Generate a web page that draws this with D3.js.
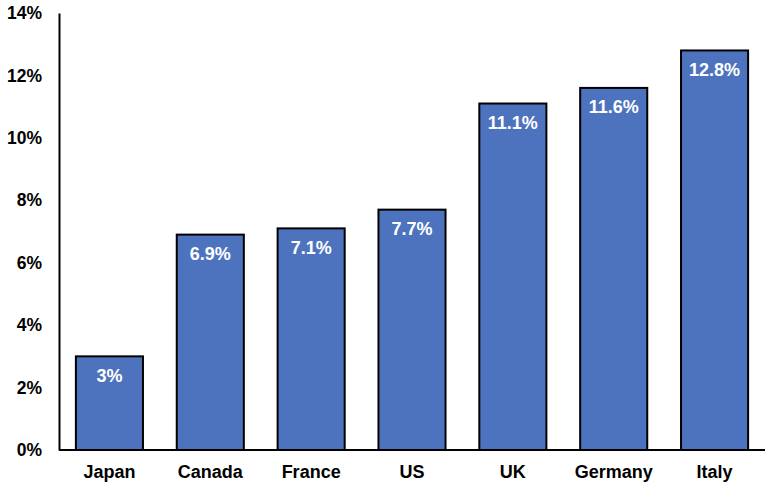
<!DOCTYPE html>
<html>
<head>
<meta charset="utf-8">
<script src="https://cdn.jsdelivr.net/npm/d3@7"></script>
<style>
  body { margin: 0; background: #fff; }
  text { font-family: "Liberation Sans", Arial, sans-serif; font-weight: bold; }
</style>
</head>
<body>
<svg id="chart" width="772" height="492"></svg>
<script>
// chart data
const countries = ['Japan', 'Canada', 'France', 'US', 'UK', 'Germany', 'Italy'];
const shares = [3, 6.9, 7.1, 7.7, 11.1, 11.6, 12.8];
const valueLabels = ['3%', '6.9%', '7.1%', '7.7%', '11.1%', '11.6%', '12.8%'];
const yTicks = [0, 2, 4, 6, 8, 10, 12, 14];

const svg = d3.select('#chart');
const plotLeft = 59, plotRight = 765, plotTop = 13, plotBottom = 450;

const x = d3.scaleBand()
    .domain(countries)
    .range([plotLeft, plotRight])
    .paddingInner(0.335)
    .paddingOuter(0.1675);

const y = d3.scaleLinear()
    .domain([0, 14])
    .range([plotBottom, plotTop]);

// bars
svg.append('g')
    .selectAll('rect')
    .data(countries)
    .enter().append('rect')
    .attr('x', d => x(d))
    .attr('y', (d, i) => y(shares[i]))
    .attr('width', x.bandwidth())
    .attr('height', (d, i) => y(0) - y(shares[i]))
    .attr('fill', '#4E73BE')
    .attr('stroke', '#000')
    .attr('stroke-width', 2);

// value labels inside bars
svg.append('g')
    .selectAll('text')
    .data(countries)
    .enter().append('text')
    .attr('x', d => x(d) + x.bandwidth() / 2)
    .attr('y', (d, i) => y(shares[i]) + 25.5)
    .attr('text-anchor', 'middle')
    .attr('fill', '#fff')
    .style('font-size', '18px')
    .text((d, i) => valueLabels[i]);

// y axis
const yAxis = svg.append('g')
    .attr('transform', `translate(${plotLeft},0)`)
    .call(d3.axisLeft(y).tickValues(yTicks).tickSize(0).tickPadding(17).tickFormat(d => d + '%'));
yAxis.select('.domain').attr('stroke', '#000').attr('stroke-width', 2);
yAxis.selectAll('text').style('font-size', '17.5px').attr('fill', '#000');

// x axis
const xAxis = svg.append('g')
    .attr('transform', `translate(0,${plotBottom})`)
    .call(d3.axisBottom(x).tickSize(0).tickPadding(15));
xAxis.select('.domain').attr('stroke', '#000').attr('stroke-width', 2).attr('d', `M${plotLeft},0H${plotRight}`);
xAxis.selectAll('text').style('font-size', '18px').attr('fill', '#000');
</script>
</body>
</html>
